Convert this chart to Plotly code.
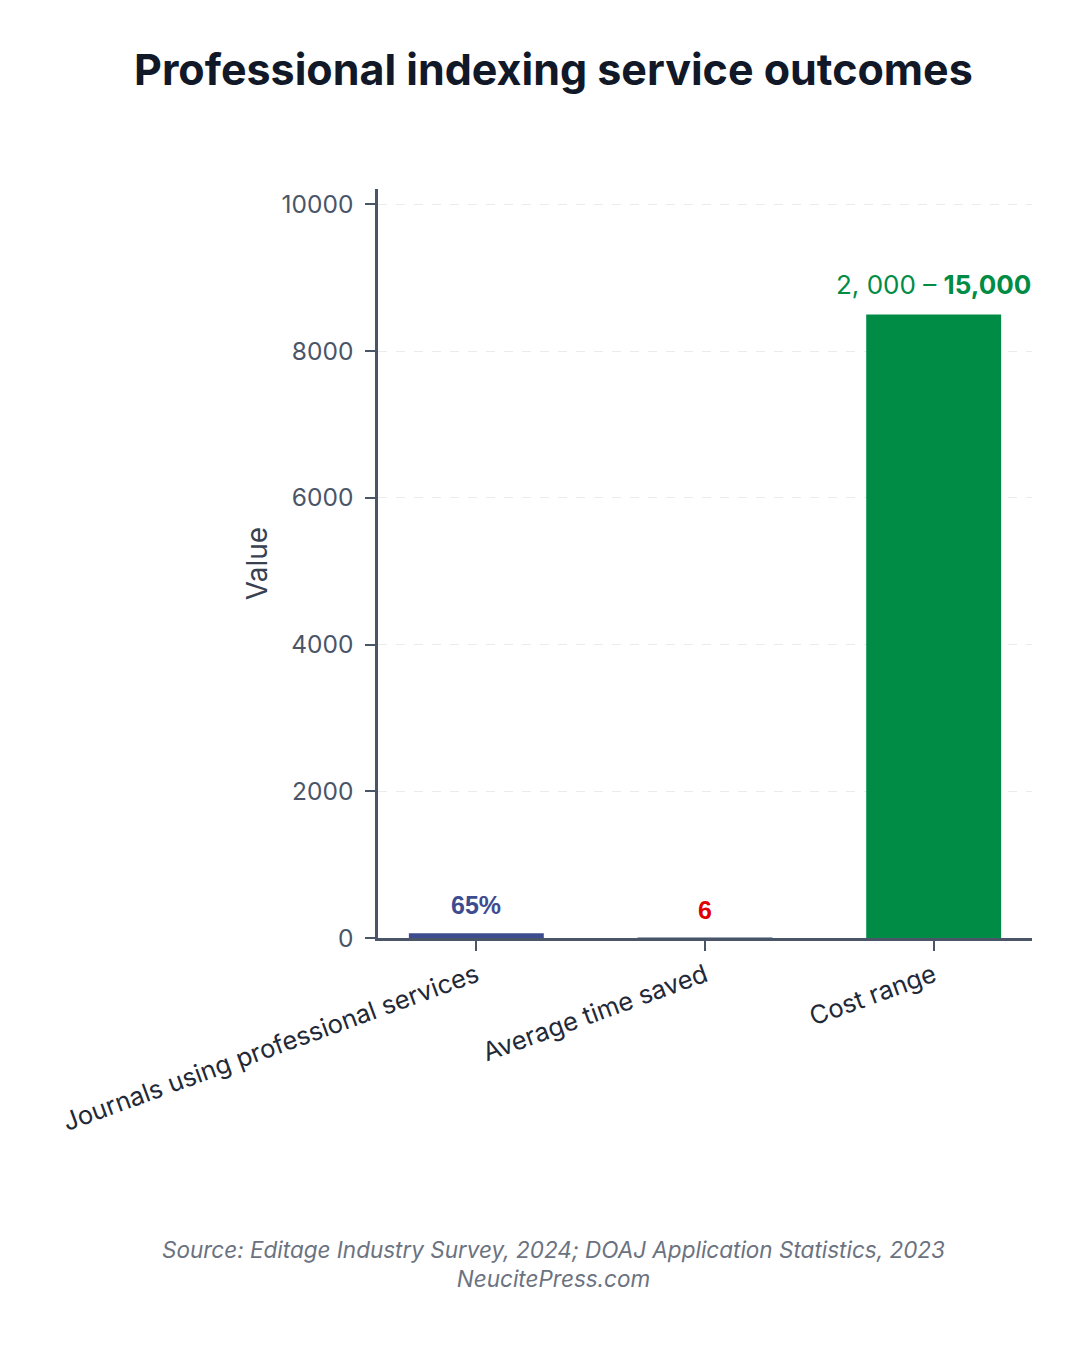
import plotly.graph_objects as go

categories = ["Journals using professional services", "Average time saved", "Cost range"]
values = [65, 6, 8500]
labels = ["<b>65%</b>", "<b>6</b>", "2, 000 – <b>15,000</b>"]
bar_colors = ["#3d4b8f", "#9aa5b8", "#008c45"]
label_colors = ["#3d4b8f", "#e00000", "#008c45"]
label_fonts = ["Liberation Sans", "Liberation Sans", "Inter"]
label_sizes = [25, 25, 26]
y_ticks = [0, 2000, 4000, 6000, 8000, 10000]
y_tick_text = ["0", "2000", "4000", "6000", "8000", "10000"]

fig = go.Figure()
fig.add_trace(go.Bar(
    x=categories,
    y=values,
    marker=dict(color=bar_colors, line_width=0),
    hoverinfo="skip",
))

# value labels sit a bit higher than plotly's outside text, so use annotations
for cat, val, lab, col, fam, sz in zip(categories, values, labels, label_colors, label_fonts, label_sizes):
    fig.add_annotation(
        x=cat, y=val, text=lab, showarrow=False,
        yanchor="bottom", yshift=12,
        font=dict(color=col, family=fam, size=sz),
    )

fig.add_annotation(
    text="<i>Source: Editage Industry Survey, 2024; DOAJ Application Statistics, 2023<br>NeucitePress.com</i>",
    xref="paper", yref="paper", x=(553 - 377) / 655, y=-(1264 - 938) / 734 * 10000 / 10210,
    xanchor="center", yanchor="middle",
    showarrow=False, font=dict(size=22.5, color="#6b7280"),
)

# page body has an 8px margin, so offsets are trimmed to match the target
fig.update_layout(
    width=1080,
    height=1350,
    paper_bgcolor="white",
    plot_bgcolor="white",
    font=dict(family="Inter", color="#4a5568"),
    bargap=0.41,
    showlegend=False,
    margin=dict(l=370, r=56, t=181, b=420),
    title=dict(
        text="<b>Professional indexing service outcomes</b>",
        x=0.505, xanchor="center", y=1 - 62 / 1350, yanchor="middle",
        font=dict(size=43, color="#111827", family="Inter"),
    ),
)

fig.update_xaxes(
    range=[-0.43, 2.43],
    showline=True, linecolor="#4a5568", linewidth=2.5,
    ticks="outside", ticklen=10, tickcolor="#4a5568", tickwidth=2,
    tickangle=-20, tickfont=dict(size=25.5, color="#1f2937"),
)
fig.update_yaxes(
    range=[0, 10210], tickvals=y_ticks, ticktext=y_tick_text,
    showline=True, linecolor="#4a5568", linewidth=2.5,
    ticks="outside", ticklen=10, tickcolor="#4a5568", tickwidth=2,
    ticklabelstandoff=7,
    showgrid=True, gridcolor="#ebebeb", griddash="dash", gridwidth=1,
    zeroline=False,
    tickfont=dict(size=24.5, color="#4a5568"),
    title=dict(text="Value", font=dict(size=28, color="#374151"), standoff=6),
)

fig.write_html("out.html")
